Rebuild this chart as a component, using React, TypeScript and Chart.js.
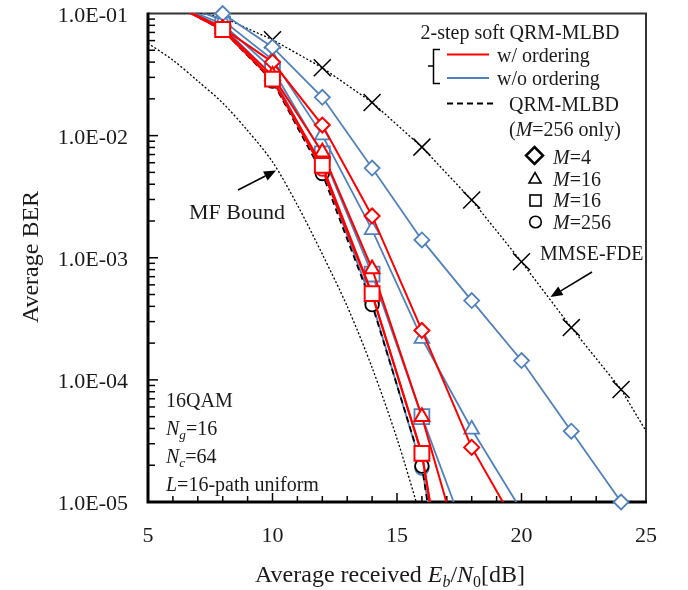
import React, { useEffect, useRef } from 'react';
import { Chart, registerables } from 'chart.js';

Chart.register(...registerables);

// ---------------- data ----------------
const snrRedM4 = [6, 8, 10, 12, 14, 16, 18, 20];
const berRedM4 = [0.12, 0.076, 0.04, 0.0122, 0.0022, 0.000254, 0.000028, 0.0000054];
const snrRed = [6, 8, 10, 12, 14, 16, 18];
const berRedM16a = [0.12, 0.075, 0.031, 0.0073, 0.00081, 0.00005, 0.0000019];
const berRedM16b = [0.12, 0.074, 0.029, 0.0057, 0.000508, 0.000025, 0.000000095];
const berRedM256 = [0.12, 0.073, 0.0285, 0.0053, 0.0005, 0.0000245, 0.00000008];

const snrBlueM4 = [8, 10, 12, 14, 16, 18, 20, 22, 24];
const berBlueM4 = [0.1, 0.053, 0.0206, 0.00543, 0.0014, 0.000446, 0.000144, 0.000038, 0.00001];
const snrBlueM16a = [6, 8, 10, 12, 14, 16, 18, 20];
const berBlueM16a = [0.125, 0.088, 0.042, 0.0101, 0.00169, 0.000218, 0.0000394, 0.0000085];
const snrBlue = [6, 8, 10, 12, 14, 16, 18];
const berBlueM16b = [0.12, 0.082, 0.035, 0.0071, 0.000735, 0.00005, 0.000004];
const berBlueM256 = [0.12, 0.078, 0.031, 0.0054, 0.00043, 0.000019, 0.0000001];

const snrQrm = [6, 8, 10, 12, 14, 16, 18];
const berQrm = [0.12, 0.073, 0.028, 0.0049, 0.000413, 0.0000197, 0.00000004];

const snrMmse = [6, 8, 10, 12, 14, 16, 18, 20, 22, 24, 26];
const berMmse = [0.11, 0.093, 0.061, 0.036, 0.0187, 0.00805, 0.00297, 0.000926, 0.000268, 0.0000835, 0.0000174];

const snrMf = [5, 6, 7, 8, 9, 10, 11, 12, 13, 14, 15, 16];
const berMf = [0.057, 0.0415, 0.028, 0.0185, 0.011, 0.0061, 0.0027, 0.00107, 0.0004, 0.000126, 0.000033, 0.000007];

const xTickValues = [5, 10, 15, 20, 25];
const xTickLabels = ['5', '10', '15', '20', '25'];
const yTickValues = [1e-1, 1e-2, 1e-3, 1e-4, 1e-5];
const yTickLabels = ['1.0E-01', '1.0E-02', '1.0E-03', '1.0E-04', '1.0E-05'];

// ---------------- styling helpers ----------------
const RED = '#ff0000';
const BLUE = '#4f81bd';
const FONT = '"Liberation Serif", "Times New Roman", Times, serif';
const TXT = '#1a1a1a';

const pts = (xs: number[], ys: number[]) => xs.map((x, i) => ({ x, y: ys[i] }));

const markerRadius = (r: number) => (c: any) => {
  const v = c.raw && c.raw.y;
  return v > 0.1001 || v < 0.99e-5 ? 0 : r;
};

function series(label: string, xs: number[], ys: number[], color: string, style: string, r: number, lw: number, extra: any = {}) {
  return {
    label,
    data: pts(xs, ys),
    borderColor: color,
    borderWidth: lw,
    pointStyle: style,
    pointRadius: markerRadius(r),
    pointHoverRadius: markerRadius(r),
    pointBorderColor: color,
    pointBackgroundColor: '#ffffff',
    pointBorderWidth: lw,
    tension: 0,
    fill: false,
    ...extra,
  };
}

type Seg = { t: string; i?: boolean; sub?: boolean };

function segFont(size: number, s: Seg) {
  const sz = s.sub ? size * 0.66 : size;
  return `${s.i ? 'italic ' : ''}${sz}px ${FONT}`;
}

function drawRich(ctx: CanvasRenderingContext2D, segs: Seg[], x: number, cy: number, size: number, align: 'left' | 'center' | 'right' = 'left') {
  ctx.save();
  ctx.textBaseline = 'alphabetic';
  ctx.textAlign = 'left';
  let total = 0;
  const widths = segs.map((s) => {
    ctx.font = segFont(size, s);
    const w = ctx.measureText(s.t).width;
    total += w;
    return w;
  });
  let cx = align === 'left' ? x : align === 'center' ? x - total / 2 : x - total;
  const base = cy + size * 0.33;
  segs.forEach((s, k) => {
    ctx.font = segFont(size, s);
    ctx.fillStyle = TXT;
    ctx.fillText(s.t, cx, base + (s.sub ? size * 0.22 : 0));
    cx += widths[k];
  });
  ctx.restore();
}

function arrow(ctx: CanvasRenderingContext2D, x1: number, y1: number, x2: number, y2: number) {
  const ang = Math.atan2(y2 - y1, x2 - x1);
  const hl = 12;
  const hw = 5;
  const bx = x2 - hl * Math.cos(ang);
  const by = y2 - hl * Math.sin(ang);
  ctx.save();
  ctx.strokeStyle = '#000';
  ctx.fillStyle = '#000';
  ctx.lineWidth = 1.5;
  ctx.beginPath();
  ctx.moveTo(x1, y1);
  ctx.lineTo(bx, by);
  ctx.stroke();
  ctx.beginPath();
  ctx.moveTo(x2, y2);
  ctx.lineTo(bx + hw * Math.sin(ang), by - hw * Math.cos(ang));
  ctx.lineTo(bx - hw * Math.sin(ang), by + hw * Math.cos(ang));
  ctx.closePath();
  ctx.fill();
  ctx.restore();
}

const decor = {
  id: 'decor',
  beforeDatasetsDraw(chart: any) {
    const { ctx, chartArea: a, scales } = chart;
    const xs = scales.x;
    const ys = scales.y;
    ctx.save();
    ctx.strokeStyle = '#000';
    ctx.lineWidth = 1.5;
    for (let v = 6; v < 25; v++) {
      const px = xs.getPixelForValue(v);
      const len = v % 5 === 0 ? 9 : 6;
      ctx.beginPath();
      ctx.moveTo(px, a.bottom);
      ctx.lineTo(px, a.bottom - len);
      ctx.stroke();
    }
    for (let k = -5; k <= -2; k++) {
      for (let m = 1; m <= 9; m++) {
        if (k === -5 && m === 1) continue;
        const py = ys.getPixelForValue(m * Math.pow(10, k));
        const len = m === 1 ? 10 : 7;
        ctx.beginPath();
        ctx.moveTo(a.left, py);
        ctx.lineTo(a.left + len, py);
        ctx.stroke();
      }
    }
    ctx.strokeStyle = '#333';
    ctx.lineWidth = 2;
    ctx.beginPath();
    ctx.moveTo(a.left, a.top);
    ctx.lineTo(a.right, a.top);
    ctx.lineTo(a.right, a.bottom);
    ctx.stroke();
    ctx.strokeStyle = '#000';
    ctx.lineWidth = 3;
    ctx.beginPath();
    ctx.moveTo(a.left, a.top - 1);
    ctx.lineTo(a.left, a.bottom);
    ctx.lineTo(a.right + 1, a.bottom);
    ctx.stroke();
    ctx.restore();
  },
  afterDraw(chart: any) {
    const { ctx, chartArea: a, scales } = chart;
    const xs = scales.x;
    const ys = scales.y;
    // tick labels
    xTickValues.forEach((v, i) => drawRich(ctx, [{ t: xTickLabels[i] }], xs.getPixelForValue(v), 535, 22, 'center'));
    yTickValues.forEach((v, i) => drawRich(ctx, [{ t: yTickLabels[i] }], a.left - 20, ys.getPixelForValue(v) + 1, 22, 'right'));
    // axis titles
    drawRich(ctx, [{ t: 'Average received ' }, { t: 'E', i: true }, { t: 'b', i: true, sub: true }, { t: '/' }, { t: 'N', i: true }, { t: '0', sub: true }, { t: '[dB]' }], 390, 574, 24, 'center');
    ctx.save();
    ctx.translate(30, 257);
    ctx.rotate(-Math.PI / 2);
    drawRich(ctx, [{ t: 'Average BER' }], 0, 0, 24, 'center');
    ctx.restore();

    // legend
    drawRich(ctx, [{ t: '2-step soft QRM-MLBD' }], 520, 32, 20, 'center');
    ctx.save();
    ctx.strokeStyle = '#000';
    ctx.lineWidth = 1.5;
    ctx.beginPath();
    ctx.moveTo(440, 49.5);
    ctx.lineTo(433.5, 49.5);
    ctx.lineTo(433.5, 83.5);
    ctx.lineTo(440, 83.5);
    ctx.moveTo(433.5, 66);
    ctx.lineTo(428, 66);
    ctx.stroke();
    ctx.lineWidth = 2;
    ctx.strokeStyle = RED;
    ctx.beginPath();
    ctx.moveTo(447, 54.5);
    ctx.lineTo(489, 54.5);
    ctx.stroke();
    ctx.strokeStyle = BLUE;
    ctx.beginPath();
    ctx.moveTo(447, 78);
    ctx.lineTo(489, 78);
    ctx.stroke();
    ctx.strokeStyle = '#000';
    ctx.lineWidth = 1.8;
    ctx.setLineDash([6, 4]);
    ctx.beginPath();
    ctx.moveTo(447, 103.5);
    ctx.lineTo(495, 103.5);
    ctx.stroke();
    ctx.setLineDash([]);
    // legend markers
    ctx.lineWidth = 2.5;
    ctx.beginPath();
    ctx.moveTo(534.5, 147);
    ctx.lineTo(543, 155.5);
    ctx.lineTo(534.5, 164);
    ctx.lineTo(526, 155.5);
    ctx.closePath();
    ctx.stroke();
    ctx.lineWidth = 1.6;
    ctx.beginPath();
    ctx.moveTo(535, 172.5);
    ctx.lineTo(541, 183);
    ctx.lineTo(529, 183);
    ctx.closePath();
    ctx.stroke();
    ctx.strokeRect(530, 195, 11, 11);
    ctx.beginPath();
    ctx.arc(535.5, 222, 5.8, 0, Math.PI * 2);
    ctx.stroke();
    ctx.restore();
    drawRich(ctx, [{ t: 'w/ ordering' }], 497, 55, 20, 'left');
    drawRich(ctx, [{ t: 'w/o ordering' }], 497, 78, 20, 'left');
    drawRich(ctx, [{ t: 'QRM-MLBD' }], 509, 104, 20, 'left');
    drawRich(ctx, [{ t: '(' }, { t: 'M', i: true }, { t: '=256 only)' }], 509, 129, 20, 'left');
    drawRich(ctx, [{ t: 'M', i: true }, { t: '=4' }], 553, 157, 20, 'left');
    drawRich(ctx, [{ t: 'M', i: true }, { t: '=16' }], 553, 179, 20, 'left');
    drawRich(ctx, [{ t: 'M', i: true }, { t: '=16' }], 553, 200, 20, 'left');
    drawRich(ctx, [{ t: 'M', i: true }, { t: '=256' }], 553, 222, 20, 'left');

    // annotations
    drawRich(ctx, [{ t: 'MF Bound' }], 189, 212, 22, 'left');
    arrow(ctx, 238, 190, 276, 170.5);
    drawRich(ctx, [{ t: 'MMSE-FDE' }], 540, 253, 20, 'left');
    arrow(ctx, 592, 272, 550.5, 297);

    drawRich(ctx, [{ t: '16QAM' }], 166, 400, 20, 'left');
    drawRich(ctx, [{ t: 'N', i: true }, { t: 'g', i: true, sub: true }, { t: '=16' }], 166, 428, 20, 'left');
    drawRich(ctx, [{ t: 'N', i: true }, { t: 'c', i: true, sub: true }, { t: '=64' }], 166, 456, 20, 'left');
    drawRich(ctx, [{ t: 'L', i: true }, { t: '=16-path uniform' }], 166, 484, 20, 'left');
  },
};

export default function App() {
  const ref = useRef<HTMLCanvasElement | null>(null);
  useEffect(() => {
    if (!ref.current) return;
    // first dataset in the list is drawn on top
    const datasets: any[] = [
      series('w/ M=16 (sq)', snrRed, berRedM16b, RED, 'rect', 10.5, 2),
      series('w/ M=256', snrRed, berRedM256, RED, 'circle', 6.5, 2),
      series('w/ M=16 (tri)', snrRed, berRedM16a, RED, 'triangle', 8.5, 2),
      series('w/ M=4', snrRedM4, berRedM4, RED, 'rectRot', 7.5, 2),
      series('QRM-MLBD M=256', snrQrm, berQrm, '#000000', 'circle', 6.8, 1.8, { borderDash: [6, 4] }),
      series('w/o M=4', snrBlueM4, berBlueM4, BLUE, 'rectRot', 7.5, 1.8, { clip: { left: 0, top: 10, right: 0, bottom: 10 } }),
      series('w/o M=16 (tri)', snrBlueM16a, berBlueM16a, BLUE, 'triangle', 8.5, 1.8),
      series('w/o M=16 (sq)', snrBlue, berBlueM16b, BLUE, 'rect', 10.5, 1.8),
      series('w/o M=256', snrBlue, berBlueM256, BLUE, 'circle', 6.8, 1.8),
      {
        ...series('MMSE-FDE', snrMmse, berMmse, '#000000', 'crossRot', 12, 1.5, { borderDash: [2, 2] }),
        borderWidth: 1.3,
      },
      {
        label: 'MF Bound',
        data: pts(snrMf, berMf),
        borderColor: '#000000',
        borderWidth: 1.3,
        borderDash: [2, 2],
        pointRadius: 0,
        pointHoverRadius: 0,
        tension: 0.3,
        fill: false,
      },
    ];
    const chart = new Chart(ref.current, {
      type: 'line',
      data: { datasets },
      options: {
        responsive: false,
        animation: false,
        devicePixelRatio: 1,
        events: [],
        layout: { padding: { top: 11, right: 42, left: 0, bottom: 0 } },
        plugins: { legend: { display: false }, tooltip: { enabled: false } },
        scales: {
          x: {
            type: 'linear',
            min: 5,
            max: 25,
            grid: { display: false },
            border: { display: false },
            ticks: { display: false },
            afterFit: (s: any) => {
              s.height = 88;
            },
          },
          y: {
            type: 'logarithmic',
            min: 1e-5,
            max: 1e-1,
            grid: { display: false },
            border: { display: false },
            ticks: { display: false },
            afterFit: (s: any) => {
              s.width = 148;
            },
          },
        },
      } as any,
      plugins: [decor],
    });
    return () => chart.destroy();
  }, []);
  return (
    <div style={{ position: 'absolute', left: 0, top: 0, width: 688, height: 590, background: '#fff' }}>
      <canvas ref={ref} width={688} height={590} style={{ display: 'block' }} />
    </div>
  );
}
